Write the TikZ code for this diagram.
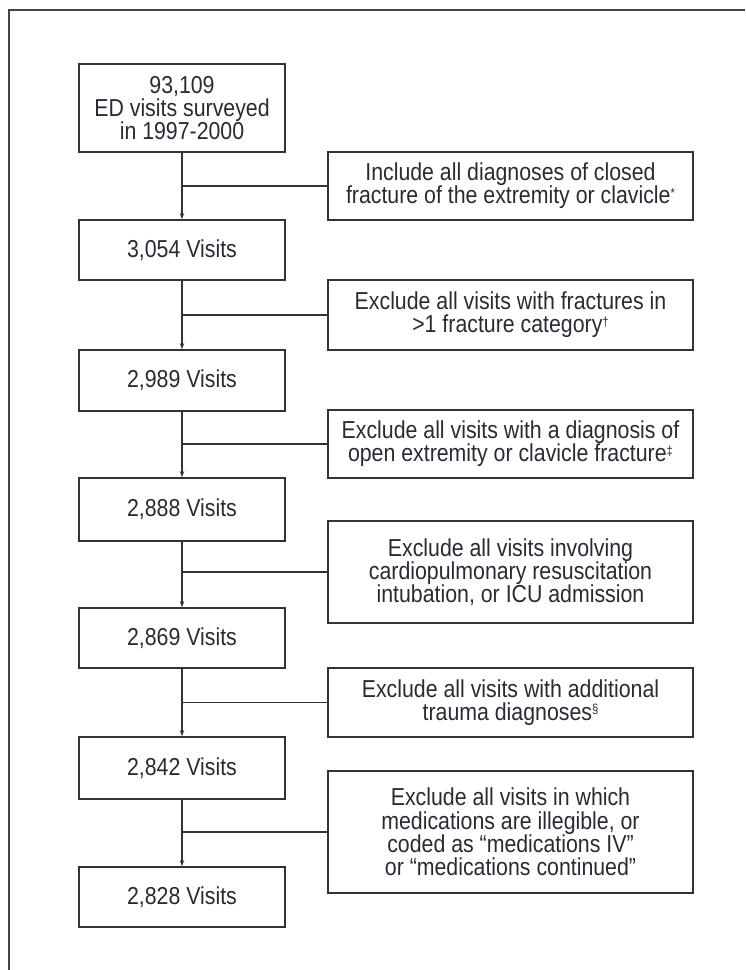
\documentclass[tikz,border=0pt]{standalone}
\usepackage{fontspec}
\setmainfont{Liberation Sans}[FakeStretch=0.87]
\usetikzlibrary{arrows.meta}
\definecolor{ln}{HTML}{333333}
\definecolor{tx}{HTML}{2A2A35}
\definecolor{fr}{HTML}{444444}
\newcommand{\supmark}[1]{\raisebox{6.5pt}{\fontsize{13}{13}\selectfont #1}}
\begin{document}
\begin{tikzpicture}[x=1pt,y=-1pt,
  every node/.style={font=\fontsize{24.5}{23.3}\selectfont, text=tx},
  lbox/.style={draw=ln, line width=1.8pt, minimum width=206pt, inner sep=0pt, align=center},
  rbox/.style={draw=ln, line width=1.8pt, minimum width=365pt, inner sep=0pt, align=center},
  conn/.style={draw=ln, line width=1.5pt},
  arr/.style={conn, -{Stealth[length=6pt,width=4.5pt]}}]
\useasboundingbox (0,0) rectangle (745,970);
\draw[draw=fr, line width=2pt] (8.5,970) -- (8.5,10) -- (745,10);

\node[lbox, minimum height=88pt] (b1) at (182,108) {93,109\\ED visits surveyed\\in 1997-2000};
\node[lbox, minimum height=60pt] (b2) at (182,250) {3,054 Visits};
\node[lbox, minimum height=61pt] (b3) at (182,380.5) {2,989 Visits};
\node[lbox, minimum height=63pt] (b4) at (182,509.5) {2,888 Visits};
\node[lbox, minimum height=60pt] (b5) at (182,638) {2,869 Visits};
\node[lbox, minimum height=62pt] (b6) at (182,768) {2,842 Visits};
\node[lbox, minimum height=60pt] (b7) at (182,897) {2,828 Visits};

\node[rbox, minimum height=68pt] (r1) at (510.5,186) {Include all diagnoses of closed\\fracture of the extremity or clavicle\supmark{*}};
\node[rbox, minimum height=70pt] (r2) at (510.5,315) {Exclude all visits with fractures in\\>1 fracture category\supmark{†}};
\node[rbox, minimum height=68pt] (r3) at (510.5,444) {Exclude all visits with a diagnosis of\\open extremity or clavicle fracture\supmark{‡}};
\node[rbox, minimum height=102pt] (r4) at (510.5,572) {Exclude all visits involving\\cardiopulmonary resuscitation\\intubation, or ICU admission};
\node[rbox, minimum height=69pt] (r5) at (510.5,702.5) {Exclude all visits with additional\\trauma diagnoses\supmark{§}};
\node[rbox, minimum height=122pt] (r6) at (510.5,832) {Exclude all visits in which\\medications are illegible, or\\coded as “medications IV”\\or “medications continued”};

\draw[arr] (b1.south) -- (b2.north);
\draw[arr] (b2.south) -- (b3.north);
\draw[arr] (b3.south) -- (b4.north);
\draw[arr] (b4.south) -- (b5.north);
\draw[arr] (b5.south) -- (b6.north);
\draw[arr] (b6.south) -- (b7.north);

\draw[conn] (r1.west) -- (r1.west -| b1.south);
\draw[conn] (r2.west) -- (r2.west -| b2.south);
\draw[conn] (r3.west) -- (r3.west -| b3.south);
\draw[conn] (r4.west) -- (r4.west -| b4.south);
\draw[conn] (r5.west) -- (r5.west -| b5.south);
\draw[conn] (r6.west) -- (r6.west -| b6.south);
\end{tikzpicture}
\end{document}
